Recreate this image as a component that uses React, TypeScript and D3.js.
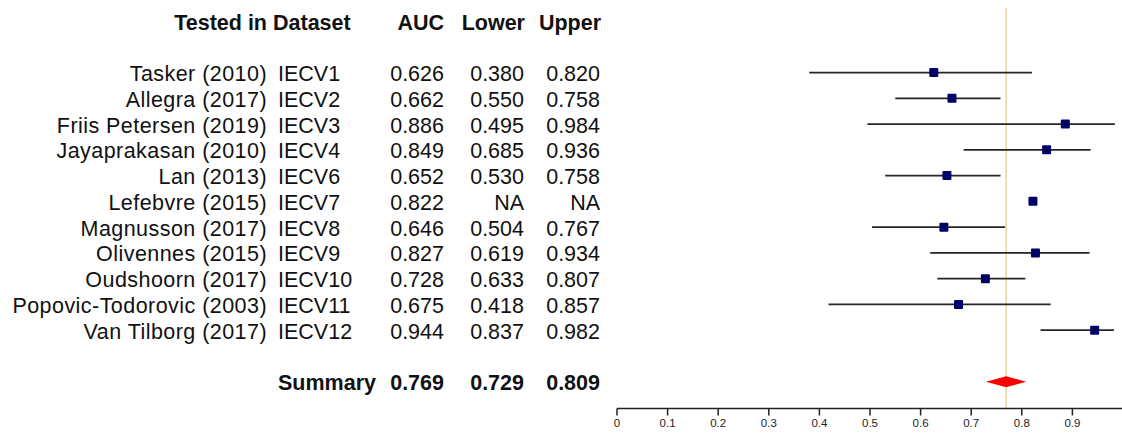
import { useRef, useEffect } from 'react';
import * as d3 from 'd3';

const studies = [
  'Tasker (2010)',
  'Allegra (2017)',
  'Friis Petersen (2019)',
  'Jayaprakasan (2010)',
  'Lan (2013)',
  'Lefebvre (2015)',
  'Magnusson (2017)',
  'Olivennes (2015)',
  'Oudshoorn (2017)',
  'Popovic-Todorovic (2003)',
  'Van Tilborg (2017)',
];
const datasets = ['IECV1', 'IECV2', 'IECV3', 'IECV4', 'IECV6', 'IECV7', 'IECV8', 'IECV9', 'IECV10', 'IECV11', 'IECV12'];
const auc = [0.626, 0.662, 0.886, 0.849, 0.652, 0.822, 0.646, 0.827, 0.728, 0.675, 0.944];
const lower: (number | null)[] = [0.38, 0.55, 0.495, 0.685, 0.53, null, 0.504, 0.619, 0.633, 0.418, 0.837];
const upper: (number | null)[] = [0.82, 0.758, 0.984, 0.936, 0.758, null, 0.767, 0.934, 0.807, 0.857, 0.982];
const summary = { auc: 0.769, lower: 0.729, upper: 0.809 };
const xTicks = [0, 0.1, 0.2, 0.3, 0.4, 0.5, 0.6, 0.7, 0.8, 0.9];

const WIDTH = 1122;
const HEIGHT = 440;

const fmt = (v: number | null) => (v === null ? 'NA' : v.toFixed(3));

const ForestPlot = () => {
  const svgRef = useRef(null);

  useEffect(() => {
    const svg = d3.select(svgRef.current);
    svg.selectAll('*').remove();

    const font = "'Liberation Sans', Arial, Helvetica, sans-serif";
    const ink = '#111';

    // row index -> pixel: header at -2, studies 0..10, summary 12, axis 13
    const y = d3.scaleLinear().domain([-2, 13]).range([22, 408.5]);
    const x = d3.scaleLinear().domain([0, 1]).range([617, 1123]);

    // table columns
    const cols = {
      study: 267,
      dataset: 278,
      auc: 444,
      lower: 524,
      upper: 600,
    };

    const hdr = svg.append('g').attr('font-family', font).attr('font-weight', 'bold')
      .attr('font-size', 21.5).attr('fill', ink);
    const headY = y(-2);
    hdr.append('text').attr('x', cols.study).attr('y', headY).attr('dy', '0.35em')
      .attr('text-anchor', 'end').text('Tested in');
    hdr.append('text').attr('x', cols.dataset - 5).attr('y', headY).attr('dy', '0.35em')
      .text('Dataset');
    hdr.append('text').attr('x', cols.auc).attr('y', headY).attr('dy', '0.35em')
      .attr('text-anchor', 'end').text('AUC');
    hdr.append('text').attr('x', cols.lower + 1).attr('y', headY).attr('dy', '0.35em')
      .attr('text-anchor', 'end').text('Lower');
    hdr.append('text').attr('x', cols.upper + 1).attr('y', headY).attr('dy', '0.35em')
      .attr('text-anchor', 'end').text('Upper');

    const rows = svg.append('g').attr('font-family', font).attr('font-size', 21.5).attr('fill', ink);
    studies.forEach((s, i) => {
      const ry = y(i);
      rows.append('text').attr('x', cols.study).attr('y', ry).attr('dy', '0.35em')
        .attr('text-anchor', 'end').attr('letter-spacing', 0.45).text(s);
      rows.append('text').attr('x', cols.dataset).attr('y', ry).attr('dy', '0.35em')
        .text(datasets[i]);
      rows.append('text').attr('x', cols.auc).attr('y', ry).attr('dy', '0.35em')
        .attr('text-anchor', 'end').text(fmt(auc[i]));
      rows.append('text').attr('x', cols.lower).attr('y', ry).attr('dy', '0.35em')
        .attr('text-anchor', 'end').text(fmt(lower[i]));
      rows.append('text').attr('x', cols.upper).attr('y', ry).attr('dy', '0.35em')
        .attr('text-anchor', 'end').text(fmt(upper[i]));
    });

    // summary row
    const sy = y(12);
    const sum = svg.append('g').attr('font-family', font).attr('font-weight', 'bold')
      .attr('font-size', 21.5).attr('fill', ink);
    sum.append('text').attr('x', cols.dataset).attr('y', sy).attr('dy', '0.35em').text('Summary');
    sum.append('text').attr('x', cols.auc).attr('y', sy).attr('dy', '0.35em')
      .attr('text-anchor', 'end').text(fmt(summary.auc));
    sum.append('text').attr('x', cols.lower).attr('y', sy).attr('dy', '0.35em')
      .attr('text-anchor', 'end').text(fmt(summary.lower));
    sum.append('text').attr('x', cols.upper).attr('y', sy).attr('dy', '0.35em')
      .attr('text-anchor', 'end').text(fmt(summary.upper));

    // reference line at summary estimate
    svg.append('line')
      .attr('x1', x(summary.auc)).attr('x2', x(summary.auc))
      .attr('y1', 8).attr('y2', y(13))
      .attr('stroke', '#f0c896').attr('stroke-width', 1.3);

    // confidence intervals
    const g = svg.append('g');
    studies.forEach((_, i) => {
      const lo = lower[i];
      const hi = upper[i];
      if (lo !== null && hi !== null) {
        g.append('line')
          .attr('x1', x(lo)).attr('x2', x(hi))
          .attr('y1', y(i) - 1).attr('y2', y(i) - 1)
          .attr('stroke', '#262626').attr('stroke-width', 1.7);
      }
    });

    // point estimates
    const sq = 9;
    g.selectAll('rect.pt')
      .data(auc)
      .join('rect')
      .attr('class', 'pt')
      .attr('x', (d) => x(d) - sq / 2)
      .attr('y', (_, i) => y(i) - 1 - sq / 2)
      .attr('width', sq)
      .attr('height', sq)
      .attr('rx', 1)
      .attr('fill', '#000066');

    // summary diamond
    const dh = 5.5;
    svg.append('path')
      .attr('d', d3.line()([
        [x(summary.lower), sy - 1],
        [x(summary.auc), sy - 1 - dh],
        [x(summary.upper), sy - 1],
        [x(summary.auc), sy - 1 + dh],
      ]) + 'Z')
      .attr('fill', '#ff0000');

    // x axis
    const axisY = y(13);
    const ax = svg.append('g');
    ax.append('line')
      .attr('x1', x(0)).attr('x2', x(1))
      .attr('y1', axisY).attr('y2', axisY)
      .attr('stroke', '#222').attr('stroke-width', 1.5);
    ax.selectAll('line.tick')
      .data(xTicks)
      .join('line')
      .attr('class', 'tick')
      .attr('x1', (d) => x(d)).attr('x2', (d) => x(d))
      .attr('y1', axisY).attr('y2', axisY + 7)
      .attr('stroke', '#222').attr('stroke-width', 1.5);
    ax.selectAll('text')
      .data(xTicks)
      .join('text')
      .attr('x', (d) => x(d))
      .attr('y', axisY + 18.5)
      .attr('text-anchor', 'middle')
      .attr('font-family', font)
      .attr('font-size', 11.5)
      .attr('fill', '#222')
      .text((d) => String(d));
  }, []);

  return <svg ref={svgRef} width={WIDTH} height={HEIGHT} style={{ display: 'block' }} />;
};

export default function App() {
  return (
    <div style={{ position: 'absolute', left: 0, top: 0, background: '#fff' }}>
      <ForestPlot />
    </div>
  );
}
